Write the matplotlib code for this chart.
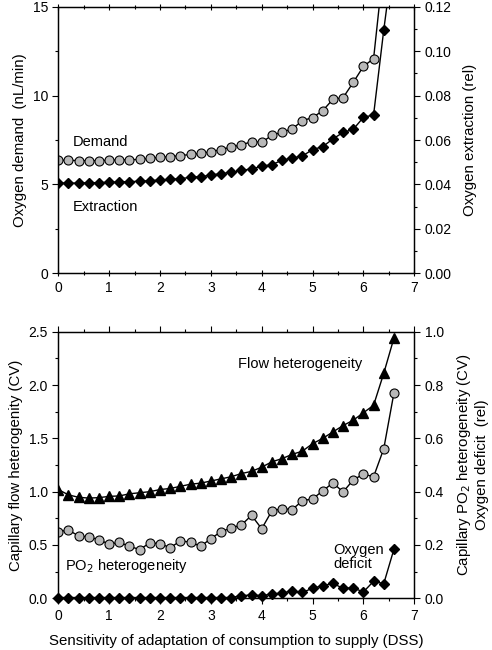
import numpy as np
import matplotlib
matplotlib.use('Agg')
import matplotlib.pyplot as plt
from matplotlib.ticker import MultipleLocator

plt.rcParams['font.family'] = ['Liberation Sans', 'DejaVu Sans']
plt.rcParams['font.size'] = 10

# top panel: demand (nL/min, left) and extraction (rel, right)
dss_demand = np.round(np.arange(0, 6.41, 0.2), 1)
demand = [6.36, 6.36, 6.34, 6.34, 6.34, 6.36, 6.38, 6.39, 6.41, 6.47, 6.53, 6.56,
          6.62, 6.69, 6.75, 6.84, 6.96, 7.11, 7.22, 7.41, 7.37, 7.76, 7.95, 8.12,
          8.59, 8.76, 9.15, 9.79, 9.88, 10.74, 11.64, 12.08, 17.4]

dss_extr = np.round(np.arange(0, 6.61, 0.2), 1)
extraction = [0.0406, 0.0406, 0.0406, 0.0408, 0.0408, 0.0410, 0.0411, 0.0413,
              0.0414, 0.0417, 0.0420, 0.0423, 0.0426, 0.0432, 0.0435, 0.0442,
              0.0449, 0.0454, 0.0463, 0.0470, 0.0482, 0.0489, 0.0509, 0.0519,
              0.0528, 0.0557, 0.0570, 0.0605, 0.0634, 0.0648, 0.0702, 0.0713,
              0.1095, 0.1444]

# bottom panel
dss = np.round(np.arange(0, 6.61, 0.2), 1)
flow_het = [1.02, 0.97, 0.947, 0.94, 0.944, 0.956, 0.96, 0.98, 0.99, 1.00, 1.02,
            1.03, 1.05, 1.07, 1.08, 1.10, 1.12, 1.14, 1.17, 1.19, 1.23, 1.28,
            1.31, 1.35, 1.38, 1.45, 1.50, 1.56, 1.62, 1.67, 1.74, 1.81, 2.11, 2.44]
po2_het = [0.250, 0.256, 0.234, 0.230, 0.220, 0.203, 0.210, 0.195, 0.183, 0.208,
           0.205, 0.190, 0.215, 0.211, 0.195, 0.224, 0.250, 0.264, 0.275, 0.311,
           0.261, 0.328, 0.336, 0.333, 0.366, 0.373, 0.403, 0.433, 0.399, 0.444,
           0.466, 0.456, 0.561, 0.770]
o2_deficit = [0.003, 0.003, 0.003, 0.003, 0.003, 0.003, 0.003, 0.003, 0.003, 0.003,
              0.003, 0.003, 0.003, 0.003, 0.003, 0.003, 0.003, 0.003, 0.010, 0.0125,
              0.010, 0.016, 0.020, 0.0275, 0.0225, 0.0375, 0.0475, 0.056, 0.0375,
              0.039, 0.024, 0.064, 0.055, 0.184]

grey = '#b8b8b8'
lab = 10.8

fig = plt.figure(figsize=(4.92, 6.5), dpi=100)
ax1 = fig.add_axes([0.1185, 0.5795, 0.7235, 0.4102])
ax1r = ax1.twinx()
ax2 = fig.add_axes([0.1185, 0.0795, 0.7235, 0.4102])
ax2r = ax2.twinx()

ax1.plot(dss_demand, demand, '-o', color='black', lw=1.0, ms=6.5,
         mfc=grey, mec='black', mew=0.8)
ax1r.plot(dss_extr, extraction, '-D', color='black', lw=1.0, ms=5.5)

ax1.set_xlim(0, 7)
ax1.set_ylim(0, 15)
ax1r.set_ylim(0, 0.12)
ax1.yaxis.set_major_locator(MultipleLocator(5))
ax1.yaxis.set_minor_locator(MultipleLocator(2.5))
ax1r.yaxis.set_major_locator(MultipleLocator(0.02))
ax1r.yaxis.set_minor_locator(MultipleLocator(0.01))
ax1r.yaxis.set_major_formatter(lambda v, p: '%.2f' % v)
ax1.set_ylabel('Oxygen demand  (nL/min)', labelpad=4, fontsize=lab)
ax1r.set_ylabel('Oxygen extraction (rel)', labelpad=8, fontsize=lab)
ax1.text(0.28, 7.38, 'Demand', va='center', ha='left', fontsize=10.5)
ax1.text(0.28, 3.73, 'Extraction', va='center', ha='left', fontsize=10.5)

ax2.plot(dss, flow_het, '-^', color='black', lw=1.0, ms=6.5)
ax2r.plot(dss, po2_het, '-o', color='black', lw=1.0, ms=6.5,
          mfc=grey, mec='black', mew=0.8)
ax2r.plot(dss, o2_deficit, '-D', color='black', lw=1.0, ms=5.5, clip_on=False)

ax2.set_xlim(0, 7)
ax2.set_ylim(0, 2.5)
ax2r.set_ylim(0, 1.0)
ax2.yaxis.set_major_locator(MultipleLocator(0.5))
ax2.yaxis.set_minor_locator(MultipleLocator(0.25))
ax2r.yaxis.set_major_locator(MultipleLocator(0.2))
ax2r.yaxis.set_minor_locator(MultipleLocator(0.1))
ax2.yaxis.set_major_formatter(lambda v, p: '%.1f' % v)
ax2r.yaxis.set_major_formatter(lambda v, p: '%.1f' % v)
ax2.set_ylabel('Capillary flow heterogenity (CV)', labelpad=4, fontsize=lab)
ax2r.set_ylabel('Capillary PO$_2$ heterogeneity (CV)\nOxygen deficit  (rel)',
                labelpad=8, linespacing=1.15, fontsize=lab)
ax2.set_xlabel('Sensitivity of adaptation of consumption to supply (DSS)',
               labelpad=8, fontsize=lab)
ax2.text(3.54, 2.20, 'Flow heterogeneity', va='center', ha='left', fontsize=10.5)
ax2.text(0.13, 0.30, 'PO$_2$ heterogeneity', va='center', ha='left', fontsize=10.5)
ax2.text(5.41, 0.39, 'Oxygen\ndeficit', va='center', ha='left', fontsize=10.5,
         linespacing=1.0)

for ax in (ax1, ax2):
    ax.xaxis.set_major_locator(MultipleLocator(1))
    ax.xaxis.set_minor_locator(MultipleLocator(0.5))
    ax.tick_params(axis='x', which='both', top=True, direction='out')
    ax.tick_params(axis='y', which='both', direction='out')
    ax.tick_params(which='major', length=4, width=0.8)
    ax.tick_params(which='minor', length=2.5, width=0.8)
for ax in (ax1r, ax2r):
    ax.tick_params(which='both', direction='out', width=0.8)
    ax.tick_params(which='major', length=4)
    ax.tick_params(which='minor', length=2.5)
# top panel bottom ticks point into the plot
ax1.tick_params(axis='x', which='both', bottom=True, direction='inout')

for ax in (ax1, ax1r, ax2, ax2r):
    for s in ax.spines.values():
        s.set_linewidth(0.9)

fig.savefig('out.png', dpi=100)
